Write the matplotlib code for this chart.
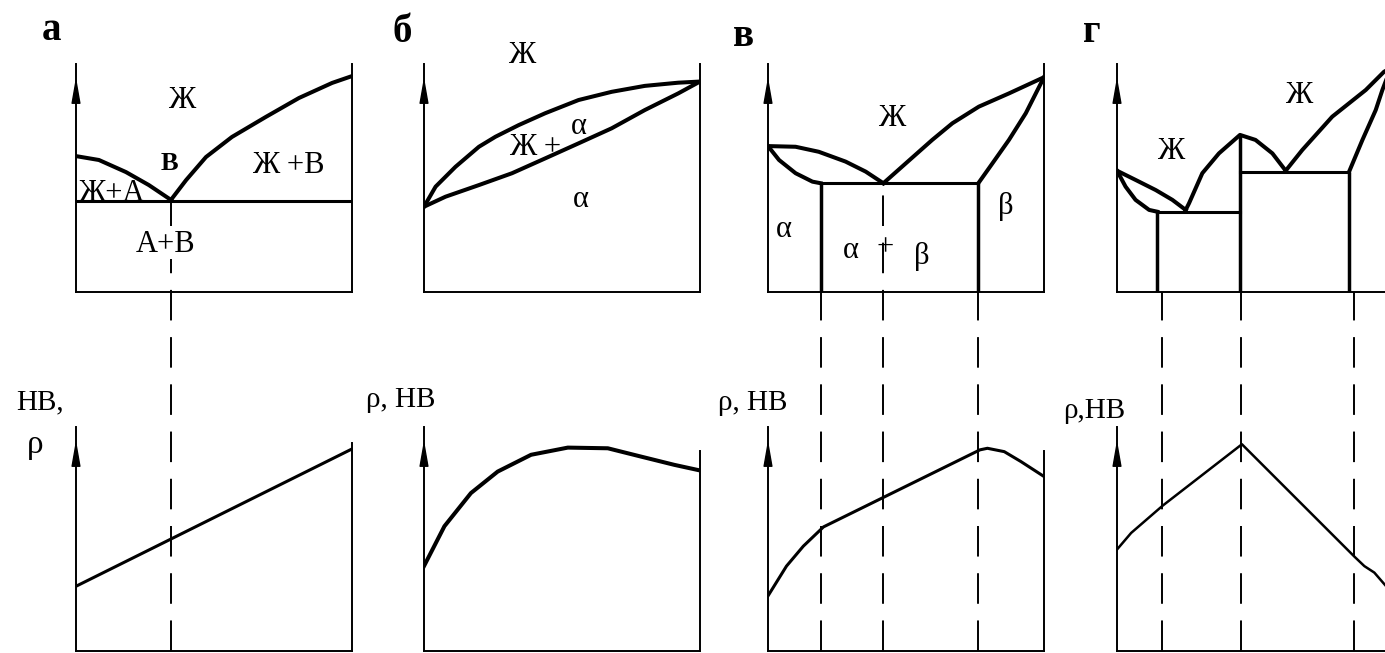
import matplotlib.pyplot as plt
from matplotlib.lines import Line2D

plt.rcParams['font.family'] = ['Liberation Serif', 'DejaVu Serif']
plt.rcParams['lines.scale_dashes'] = False
plt.rcParams['lines.solid_joinstyle'] = 'round'

W, H = 1385, 653

# column extents in pixels: left axis, right edge
columns = [(76, 352), (424, 700), (768, 1044), (1117, 1394)]
top_box = (64, 292)
bot_box = (427, 651)

# --- а: simple eutectic, no solubility
a_liq_l_c = [0, 8.3, 18.1, 26.4, 34.4]
a_liq_l_t = [59.6, 57.9, 52.6, 46.9, 40.4]
a_liq_r_c = [34.4, 39.9, 47.1, 56.5, 68.8, 80.8, 92.8, 100]
a_liq_r_t = [40.4, 49.1, 59.2, 68.0, 76.8, 85.1, 91.7, 94.7]
a_eut_t = 40.0
a_eut_c = 34.4
a_prop_c = [0, 100]
a_prop = [28.9, 90.2]

# --- б: complete solid solubility
b_liq_c = [0, 4.2, 11.4, 19.9, 25.9, 34.3, 43.9, 56.0, 68.0, 80.0, 92.1, 100]
b_liq_t = [37.4, 46.2, 54.9, 63.7, 68.1, 73.2, 78.4, 84.2, 87.8, 90.4, 91.8, 92.3]
b_sol_c = [0, 7.8, 19.9, 31.9, 43.9, 56.0, 68.0, 80.0, 92.1, 100]
b_sol_t = [37.4, 41.8, 46.9, 52.1, 58.6, 65.2, 71.8, 79.8, 87.1, 92.3]
b_prop_c = [0, 7.4, 17.0, 26.7, 38.8, 52.1, 66.6, 78.6, 90.7, 100]
b_prop = [37.9, 55.7, 70.5, 80.1, 87.6, 90.8, 90.5, 86.8, 83.1, 80.6]

# --- в: eutectic with limited solubility
v_liq_l_c = [0, 10, 18.4, 28.1, 35.4, 41.8]
v_liq_l_t = [64.0, 63.7, 61.5, 57.2, 52.8, 47.7]
v_sol_l_c = [0, 4.0, 10.0, 16.1, 19.1]
v_sol_l_t = [64.0, 57.9, 52.1, 48.4, 47.7]
v_liq_r_c = [41.8, 49.9, 59.5, 66.8, 76.4, 87.3, 100]
v_liq_r_t = [47.7, 56.4, 66.7, 74.0, 81.3, 87.1, 94.2]
v_sol_r_c = [76.2, 81.3, 87.3, 93.4, 100]
v_sol_r_t = [47.7, 56.4, 66.7, 78.4, 94.2]
v_eut_t = 47.7
v_eut_c = 41.8
v_limits = [19.1, 76.2]
v_prop_c = [0, 6.7, 12.8, 20.1, 76.8, 79.5, 85.6, 91.6, 100]
v_prop = [24.6, 37.9, 46.8, 55.4, 89.8, 90.5, 89.0, 84.6, 77.9]

# --- г: system with a chemical compound
g_liq1_c = [0, 6.8, 14.0, 20.0, 24.8]
g_liq1_t = [53.2, 49.1, 44.7, 40.4, 36.0]
g_sol1_c = [0, 3.1, 6.7, 11.6, 14.6]
g_sol1_t = [53.2, 46.2, 40.4, 36.0, 35.2]
g_liq2_c = [24.8, 26.0, 30.8, 36.8, 44.4, 50.0, 56.1, 60.9]
g_liq2_t = [36.0, 38.9, 52.1, 60.8, 68.9, 66.7, 60.8, 53.2]
g_liq3_c = [60.9, 66.9, 77.7, 89.8, 96.4, 100]
g_liq3_t = [53.2, 62.3, 76.9, 88.6, 96.6, 99.0]
g_sol3_c = [83.8, 88.6, 93.4, 95.8, 97.5, 100]
g_sol3_t = [52.8, 66.7, 79.8, 88.6, 94.0, 99.0]
g_eut_t = [35.2, 52.8]
g_verts_c = [14.6, 44.4, 83.8]
g_verts_t = [35.2, 68.9, 52.8]
g_dash_c = [16.2, 44.9, 85.6]
g_prop_c = [0, 5.1, 16.5, 45.1, 85.9, 89.3, 92.9, 97.1, 100]
g_prop = [45.3, 52.7, 64.9, 92.3, 41.9, 37.9, 35.0, 29.0, 25.0]

fig = plt.figure(figsize=(W / 100, H / 100), dpi=100)
fig.patch.set_facecolor('white')

THICK = 2.9
FRAME = 1.4
LBL = 22


def make_axes(col, box, right_top=100, right=True):
    x0, x1 = columns[col]
    y0, y1 = box
    ax = fig.add_axes([x0 / W, 1 - y1 / H, (x1 - x0) / W, (y1 - y0) / H])
    ax.set_xlim(0, 100)
    ax.set_ylim(0, 100)
    ax.set_xticks([])
    ax.set_yticks([])
    ax.patch.set_alpha(0)
    ax.spines['top'].set_visible(False)
    for s in ('left', 'bottom', 'right'):
        ax.spines[s].set_linewidth(FRAME)
    if right:
        ax.spines['right'].set_bounds(0, right_top)
    else:
        ax.spines['right'].set_visible(False)
    return ax


def axis_arrow(ax, tip, base):
    ax.annotate('', xy=(0, tip), xytext=(0, base),
                arrowprops=dict(arrowstyle='-|>,head_length=1.6,head_width=0.28',
                                color='k', lw=1, shrinkA=0, shrinkB=0),
                annotation_clip=False)


def drop_line(ax_top, ax_bot, c, t_start):
    # dashed guide from the phase diagram down to the property curve,
    # drawn bottom-up so the dash pattern starts at the base line;
    # kept under the axes so boxed labels can mask it
    to_fig = fig.transFigure.inverted()
    x, y0 = to_fig.transform(ax_bot.transData.transform((c, 0)))
    _, y_start = to_fig.transform(ax_top.transData.transform((c, t_start)))
    fig.add_artist(Line2D([x, x], [y0, y_start], transform=fig.transFigure,
                          color='k', lw=1.4, dashes=(22, 12), zorder=-1))


def label(ax, x, y, s, size=LBL, **kw):
    ax.text(x, y, s, fontsize=size, ha=kw.pop('ha', 'center'),
            va=kw.pop('va', 'center'), **kw)


tops = [make_axes(i, top_box) for i in range(3)] + [make_axes(3, top_box, right=False)]
bots = [make_axes(0, bot_box, 92.9), make_axes(1, bot_box, 89.3),
        make_axes(2, bot_box, 89.3), make_axes(3, bot_box, right=False)]
for ax in tops:
    axis_arrow(ax, 94.3, 84.2)
for ax in bots:
    axis_arrow(ax, 94.2, 83.0)

# а
ax = tops[0]
ax.plot(a_liq_l_c, a_liq_l_t, color='k', lw=THICK)
ax.plot(a_liq_r_c, a_liq_r_t, color='k', lw=THICK)
ax.axhline(a_eut_t, color='k', lw=2.2)
label(ax, 38.4, 84.2, 'Ж')
label(ax, 33.7, 56.5, 'В', size=19, fontweight='bold')
label(ax, 0.6, 43.4, 'Ж+А', ha='left')
label(ax, 76.8, 55.3, 'Ж +В')
label(ax, 32.6, 21.0, 'А+В', bbox=dict(fc='white', ec='none', pad=0.5))
bots[0].plot(a_prop_c, a_prop, color='k', lw=2.2)
drop_line(tops[0], bots[0], a_eut_c, a_eut_t)

# б
ax = tops[1]
ax.plot(b_liq_c, b_liq_t, color='k', lw=THICK)
ax.plot(b_sol_c, b_sol_t, color='k', lw=THICK)
label(ax, 35.4, 103.9, 'Ж')
label(ax, 40.4, 63.2, 'Ж +')
label(ax, 56.0, 72.4, 'α')
label(ax, 56.7, 40.4, 'α')
bots[1].plot(b_prop_c, b_prop, color='k', lw=THICK)

# в
ax = tops[2]
ax.plot(v_liq_l_c, v_liq_l_t, color='k', lw=THICK)
ax.plot(v_sol_l_c, v_sol_l_t, color='k', lw=THICK)
ax.plot(v_liq_r_c, v_liq_r_t, color='k', lw=THICK)
ax.plot(v_sol_r_c, v_sol_r_t, color='k', lw=THICK)
ax.plot(v_limits, [v_eut_t, v_eut_t], color='k', lw=2.2)
ax.vlines(v_limits, 0, v_eut_t, color='k', lw=2.5)
label(ax, 44.9, 76.3, 'Ж')
label(ax, 5.8, 27.2, 'α')
label(ax, 30.0, 18.4, 'α')
label(ax, 42.3, 19.3, '+')
label(ax, 55.9, 15.5, 'β')
label(ax, 86.1, 37.4, 'β')
bots[2].plot(v_prop_c, v_prop, color='k', lw=2.2)
for c in v_limits:
    drop_line(tops[2], bots[2], c, 0)
drop_line(tops[2], bots[2], v_eut_c, v_eut_t)

# г
ax = tops[3]
ax.plot(g_liq1_c, g_liq1_t, color='k', lw=THICK)
ax.plot(g_sol1_c, g_sol1_t, color='k', lw=THICK)
ax.plot(g_liq2_c, g_liq2_t, color='k', lw=THICK)
ax.plot(g_liq3_c, g_liq3_t, color='k', lw=THICK)
ax.plot(g_sol3_c, g_sol3_t, color='k', lw=THICK)
ax.plot(g_verts_c[:2], [g_eut_t[0]] * 2, color='k', lw=2.2)
ax.plot(g_verts_c[1:], [g_eut_t[1]] * 2, color='k', lw=2.2)
ax.vlines(g_verts_c, 0, g_verts_t, color='k', lw=2.5)
label(ax, 19.4, 61.5, 'Ж')
label(ax, 65.7, 86.4, 'Ж')
bots[3].plot(g_prop_c, g_prop, color='k', lw=1.8)
for c in g_dash_c:
    drop_line(tops[3], bots[3], c, 0)

# property axis captions
bots[0].text(-4.3, 108, 'НВ,', fontsize=21, ha='right', va='baseline')
bots[0].text(-14.9, 92.0, 'ρ', fontsize=24, ha='center', va='center')
bots[1].text(4.3, 109, 'ρ, НВ', fontsize=21, ha='right', va='baseline')
bots[2].text(6.9, 107.6, 'ρ, НВ', fontsize=21, ha='right', va='baseline')
bots[3].text(2.9, 104, 'ρ,НВ', fontsize=21, ha='right', va='baseline')

# panel letters
for s, x, y in [('а', 51, 31), ('б', 402, 32), ('в', 743, 36), ('г', 1092, 32)]:
    fig.text(x / W, 1 - y / H, s, fontsize=28, fontweight='bold',
             ha='center', va='center')

fig.savefig('out.png', dpi=100, facecolor='white')
